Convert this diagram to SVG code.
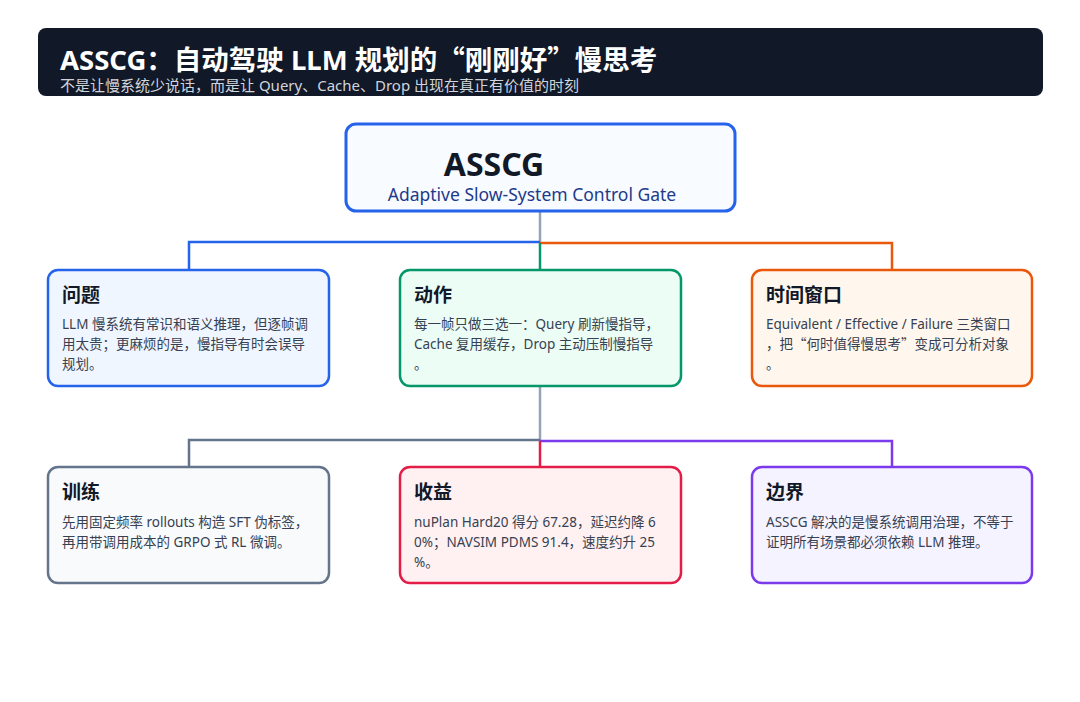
<svg xmlns="http://www.w3.org/2000/svg" width="1080" height="702" viewBox="0 0 1080 702">
<style>
.f{font-family:"Noto Sans","Noto Sans CJK SC",sans-serif}
.q{font-family:"Noto Sans CJK SC",sans-serif}
.ttl{font-size:19px;font-weight:700;fill:#111827}
.body{font-size:13.5px;fill:#374151}
.node{stroke-width:2.5}
.c{fill:none;stroke-width:2.5}
</style>
<rect width="1080" height="702" fill="#ffffff"/>
<g id="header">
<rect x="38" y="28" width="1005" height="68" rx="8" fill="#111827"/>
<text class="f" x="60" y="70" font-size="27.5" font-weight="700" fill="#ffffff">ASSCG：自动驾驶 LLM 规划的<tspan class="q">“</tspan>刚刚好<tspan class="q">”</tspan>慢思考</text>
<text class="f" x="60" y="91" font-size="15" fill="#d1d5db">不是让慢系统少说话，而是让 Query、Cache、Drop 出现在真正有价值的时刻</text>
</g>
<g id="connectors">
<path class="c" stroke="#94a3b8" d="M540 211V242"/>
<path class="c" stroke="#2563eb" d="M540 242H189V270"/>
<path class="c" stroke="#ea580c" d="M540 243H892V270"/>
<path class="c" stroke="#059669" d="M540 243V270"/>
<path class="c" stroke="#94a3b8" d="M540 386V440"/>
<path class="c" stroke="#64748b" d="M540 440H189V467"/>
<path class="c" stroke="#7c3aed" d="M540 441H892V467"/>
<path class="c" stroke="#e11d48" d="M540 441V467"/>
</g>
<g id="root">
<rect x="346" y="124" width="389" height="87" rx="10" fill="#f8fbff" stroke="#2563eb" stroke-width="3"/>
<text class="f" x="494" y="176" font-size="32" font-weight="700" fill="#111827" text-anchor="middle">ASSCG</text>
<text class="f" x="532" y="201" font-size="17.5" fill="#1e3a8a" text-anchor="middle">Adaptive Slow-System Control Gate</text>
</g>
<g id="problem">
<rect class="node" x="48" y="270" width="281" height="116" rx="10" fill="#eff6ff" stroke="#2563eb"/>
<text class="f ttl" x="62" y="302">问题</text>
<text class="f body"><tspan x="62" y="329">LLM 慢系统有常识和语义推理，但逐帧调</tspan><tspan x="62" y="349">用太贵；更麻烦的是，慢指导有时会误导</tspan><tspan x="62" y="369">规划。</tspan></text>
</g>
<g id="action">
<rect class="node" x="400" y="270" width="281" height="116" rx="10" fill="#ecfdf5" stroke="#059669"/>
<text class="f ttl" x="414" y="302">动作</text>
<text class="f body"><tspan x="414" y="329">每一帧只做三选一：Query 刷新慢指导，</tspan><tspan x="414" y="349">Cache 复用缓存，Drop 主动压制慢指导</tspan><tspan x="414" y="369">。</tspan></text>
</g>
<g id="window">
<rect class="node" x="752" y="270" width="280" height="116" rx="10" fill="#fff7ed" stroke="#ea580c"/>
<text class="f ttl" x="766" y="302">时间窗口</text>
<text class="f body"><tspan x="766" y="329">Equivalent / Effective / Failure 三类窗口</tspan><tspan x="766" y="349">，把<tspan class="q">“</tspan>何时值得慢思考<tspan class="q">”</tspan>变成可分析对象</tspan><tspan x="766" y="369">。</tspan></text>
</g>
<g id="training">
<rect class="node" x="48" y="467" width="281" height="116" rx="10" fill="#f8fafc" stroke="#64748b"/>
<text class="f ttl" x="62" y="499">训练</text>
<text class="f body"><tspan x="62" y="527">先用固定频率 rollouts 构造 SFT 伪标签，</tspan><tspan x="62" y="547">再用带调用成本的 GRPO 式 RL 微调。</tspan></text>
</g>
<g id="gain">
<rect class="node" x="400" y="467" width="281" height="116" rx="10" fill="#fff1f2" stroke="#e11d48"/>
<text class="f ttl" x="414" y="499">收益</text>
<text class="f body"><tspan x="414" y="527">nuPlan Hard20 得分 67.28，延迟约降 6</tspan><tspan x="414" y="547">0%；NAVSIM PDMS 91.4，速度约升 25</tspan><tspan x="414" y="567">%。</tspan></text>
</g>
<g id="boundary">
<rect class="node" x="752" y="467" width="280" height="116" rx="10" fill="#f5f3ff" stroke="#7c3aed"/>
<text class="f ttl" x="766" y="499">边界</text>
<text class="f body"><tspan x="766" y="527">ASSCG 解决的是慢系统调用治理，不等于</tspan><tspan x="766" y="547">证明所有场景都必须依赖 LLM 推理。</tspan></text>
</g>
</svg>
